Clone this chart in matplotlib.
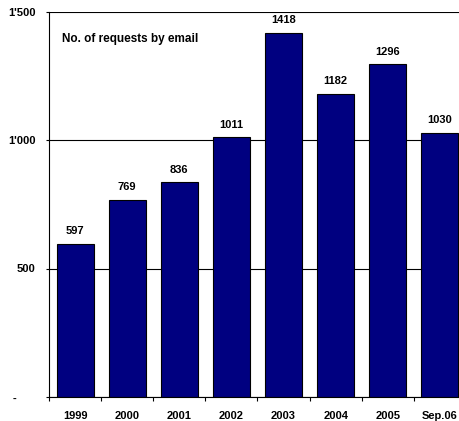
import matplotlib
matplotlib.use("Agg")
import matplotlib.pyplot as plt
from matplotlib.ticker import FixedLocator

# data
categories = ["1999", "2000", "2001", "2002", "2003", "2004", "2005", "Sep.06"]
requests = [597, 769, 836, 1011, 1418, 1182, 1296, 1030]
y_ticks = [0, 500, 1000, 1500]
y_labels = ["-      ", "500", "1'000", "1'500"]

plt.rcParams['font.family'] = ['Liberation Sans', 'DejaVu Sans']

fig = plt.figure(figsize=(4.6, 4.21), dpi=100)
# axes runs a little past the right edge, as in the reference crop
ax = fig.add_axes([49 / 460, 24.3 / 421, 417 / 460, 384.6 / 421])

x = range(len(categories))
ax.bar(x, requests, width=0.71, color="#000080",
       edgecolor="black", linewidth=0.8, zorder=3)

for xi, v in zip(x, requests):
    ax.annotate(str(v), (xi, v), xytext=(0, 5.5), textcoords="offset points",
                ha="center", va="bottom", fontsize=8, fontweight="bold")

ax.set_xlim(-0.5, len(categories) - 0.5)
ax.set_ylim(0, 1500)

ax.set_xticks(list(x))
ax.set_xticklabels(categories, fontsize=8, fontweight="bold")
ax.tick_params(axis="x", which="major", length=0, pad=10)
ax.xaxis.set_minor_locator(FixedLocator([i - 0.5 for i in range(len(categories) + 1)]))
ax.tick_params(axis="x", which="minor", length=3, width=0.8, direction="out")

ax.set_yticks(y_ticks)
ax.set_yticklabels(y_labels, fontsize=8, fontweight="bold")
ax.tick_params(axis="y", length=2.5, width=0.8, pad=7, direction="out")

ax.grid(axis="y", color="black", linewidth=0.8, zorder=0)
ax.set_axisbelow(True)
for side in ["top", "right"]:
    ax.spines[side].set_visible(False)
for side in ["left", "bottom"]:
    ax.spines[side].set_linewidth(0.8)
    ax.spines[side].set_zorder(4)

fig.text(62 / 460, (421 - 39) / 421, "No. of requests by email",
         fontsize=8.5, fontweight="bold", va="center", ha="left")

fig.savefig("out.png", dpi=100)
